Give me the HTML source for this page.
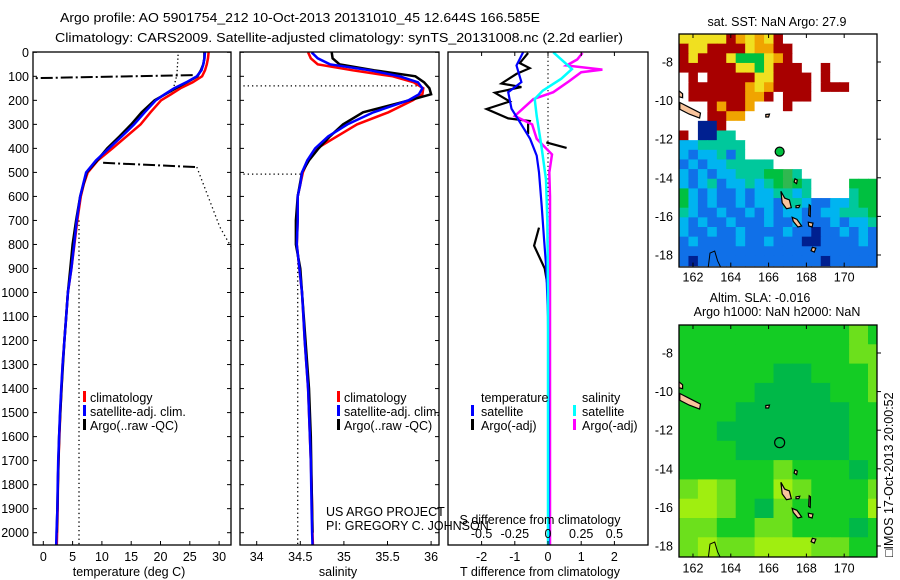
<!DOCTYPE html>
<html><head><meta charset="utf-8"><title>Argo profile</title>
<style>
html,body{margin:0;padding:0;background:#fff;}
svg{display:block;font-family:"Liberation Sans",sans-serif;}
</style></head>
<body>
<svg id="root" width="900" height="580" viewBox="0 0 900 580" xmlns="http://www.w3.org/2000/svg">
<defs>
<clipPath id="c1"><rect x="33" y="52" width="198" height="493"/></clipPath>
<clipPath id="c2"><rect x="240" y="52" width="199" height="493"/></clipPath>
<clipPath id="c3"><rect x="448" y="52" width="200" height="493"/></clipPath>
<clipPath id="cm1"><rect x="679" y="34" width="198" height="233"/></clipPath>
<clipPath id="cm2"><rect x="679" y="325" width="198" height="232"/></clipPath>
</defs>
<text x="60" y="22" font-size="13" textLength="480" lengthAdjust="spacingAndGlyphs">Argo profile: AO 5901754_212 10-Oct-2013 20131010_45 12.644S 166.585E</text>
<text x="55" y="42" font-size="13" textLength="568" lengthAdjust="spacingAndGlyphs">Climatology: CARS2009. Satellite-adjusted climatology: synTS_20131008.nc (2.2d earlier)</text>

<g id="p1"></g>
<g id="p2"></g>
<g id="p3"></g>
<g id="m1"></g>
<g id="m2"></g>

<rect x="33" y="52" width="198" height="493" fill="none" stroke="#000" stroke-width="1.3"/>
<rect x="240" y="52" width="199" height="493" fill="none" stroke="#000" stroke-width="1.3"/>
<rect x="448" y="52" width="200" height="493" fill="none" stroke="#000" stroke-width="1.3"/>
<rect x="679" y="34" width="198" height="233" fill="none" stroke="#000" stroke-width="1.3"/>
<rect x="679" y="325" width="198" height="232" fill="none" stroke="#000" stroke-width="1.3"/>

<g font-size="12.5">
<rect x="83" y="391" width="3" height="11" fill="#f00"/>
<text x="90" y="402">climatology</text>
<rect x="83" y="405" width="3" height="11" fill="#00f"/>
<text x="90" y="416">satellite-adj. clim.</text>
<rect x="83" y="419" width="3" height="11" fill="#000"/>
<text x="90" y="430">Argo(..raw -QC)</text>
</g>
<g font-size="12.5">
<rect x="337" y="391" width="3" height="11" fill="#f00"/>
<text x="344" y="402">climatology</text>
<rect x="337" y="405" width="3" height="11" fill="#00f"/>
<text x="344" y="416">satellite-adj. clim.</text>
<rect x="337" y="419" width="3" height="11" fill="#000"/>
<text x="344" y="430">Argo(..raw -QC)</text>
</g>
<g font-size="12.5">
<text x="481" y="402">temperature</text>
<rect x="471" y="405" width="3" height="11" fill="#00f"/>
<text x="481" y="416">satellite</text>
<rect x="471" y="419" width="3" height="11" fill="#000"/>
<text x="481" y="430">Argo(-adj)</text>
<text x="582" y="402">salinity</text>
<rect x="573" y="405" width="3" height="11" fill="#0ff"/>
<text x="582" y="416">satellite</text>
<rect x="573" y="419" width="3" height="11" fill="#f0f"/>
<text x="582" y="430">Argo(-adj)</text>
</g>

<text x="129" y="576" font-size="12.5" text-anchor="middle">temperature (deg C)</text>
<text x="338" y="576" font-size="12.5" text-anchor="middle">salinity</text>
<text x="540" y="576" font-size="12.5" text-anchor="middle">T difference from climatology</text>
<text x="540" y="524" font-size="12.5" text-anchor="middle">S difference from climatology</text>
<text x="326" y="516" font-size="12.5">US ARGO PROJECT</text>
<text x="326" y="530" font-size="12.5">PI: GREGORY C. JOHNSON</text>

<text x="777" y="26" font-size="12.5" text-anchor="middle">sat. SST: NaN Argo: 27.9</text>
<text x="760" y="302" font-size="12.5" text-anchor="middle">Altim. SLA: -0.016</text>
<text x="777" y="316" font-size="12.5" text-anchor="middle">Argo h1000: NaN h2000: NaN</text>
<text transform="translate(893,557) rotate(-90)" font-size="12.5">□IMOS 17-Oct-2013 20:00:52</text>
</svg>
<script>
// ---------- profile data ----------
const climDepth = [0,25,50,75,100,125,150,175,200,250,300,350,400,450,500,550,600,700,800,900,1000,1100,1200,1300,1400,1500,1600,1700,1800,1900,2000,2050];
const climT = [28.2,28.1,27.9,27.6,27.1,25.5,23.4,21.8,20.1,18.3,16.6,14.2,11.8,9.3,7.6,6.9,6.4,5.8,5.3,4.8,4.2,3.9,3.6,3.3,3.1,2.9,2.75,2.6,2.5,2.45,2.35,2.3];
const satT = [27.6,27.5,27.3,27.0,26.2,24.4,22.3,20.7,19.2,17.3,15.5,13.4,11.2,9.0,7.3,6.8,6.3,5.7,5.25,4.8,4.2,3.9,3.6,3.3,3.05,2.85,2.7,2.55,2.45,2.4,2.25,2.2];
const climS = [34.59,34.62,34.70,35.10,35.56,35.80,35.91,35.90,35.79,35.51,35.15,34.92,34.69,34.59,34.53,34.50,34.47,34.47,34.46,34.49,34.52,34.535,34.55,34.57,34.59,34.60,34.61,34.62,34.63,34.635,34.64,34.645];
const satS = [34.63,34.70,34.84,35.30,35.64,35.85,35.90,35.86,35.74,35.34,35.04,34.82,34.67,34.58,34.52,34.50,34.47,34.47,34.46,34.49,34.52,34.535,34.55,34.57,34.59,34.60,34.61,34.62,34.625,34.63,34.635,34.64];
const argoDepth = [0,25,50,75,100,125,150,175,200,250,300,350,400,450,500,600,700,800,900,1000,1200,1400,1600,1800,2000];
const argoT = [27.5,27.5,27.3,26.9,26.3,24.5,22.6,20.8,19.0,16.8,15.0,13.0,10.9,9.2,7.4,6.3,5.6,5.0,4.6,4.2,3.6,3.1,2.7,2.5,2.3];
const argoS = [34.86,34.87,34.95,35.35,35.82,35.92,35.98,36.0,35.75,35.22,34.99,34.84,34.71,34.60,34.52,34.47,34.45,34.45,34.50,34.52,34.56,34.60,34.62,34.63,34.64];
// raw (failed QC) Argo values
const rawTDepthA = [10,95,170];
const rawTA = [23.0,22.8,22.0];
const rawTDepthB = [95,108];
const rawTB = [25.5,-1.8];
const rawTDepthC = [460,478];
const rawTC = [10.2,26.2];
const rawTDepthD = [478,726,830];
const rawTD = [26.2,30.1,32.5];
const rawTDepthE = [700,2070];
const rawTE = [6.1,6.1];
const rawSDepthA = [140,140];
const rawSA = [33.7,35.87];
const rawSDepthB = [507,507];
const rawSB = [33.7,34.52];
const rawSDepthC = [860,2070];
const rawSC = [34.47,34.47];
// differences
const satDiffDepth = [0,55,124,166,235,290,360,430,500,640,775,900,1100,1500,2050];
const satDiffT = [-0.75,-0.95,-0.8,-1.2,-1.1,-0.85,-0.54,-0.34,-0.27,-0.19,-0.12,-0.05,0.0,0.02,0.02];
const argoDiffDepth = [3,45,66,90,130,145,168,205,236,275,286,300,340,null,375,398,null,730,805,900,1000,1500,2050];
const argoDiffT = [-0.6,-0.85,-0.55,-0.95,-1.4,-0.8,-1.6,-1.15,-1.85,-1.2,-0.55,-0.6,-0.6,null,-0.05,0.56,null,-0.27,-0.42,-0.1,0.02,0.02,0.02];
const satDiffSDepth = [0,45,70,110,160,195,265,390,530,700,1000,2050];
const satDiffS = [0.04,0.13,0.18,0.10,-0.04,-0.10,-0.085,-0.05,-0.015,-0.005,0,0];
const argoDiffSDepth = [3,30,55,72,83,120,166,195,235,265,300,360,425,500,600,1000,2050];
const argoDiffS = [0.26,0.22,0.14,0.41,0.25,0.16,0.04,-0.11,-0.19,-0.25,-0.12,-0.085,0.03,0.01,0.015,0.015,0.015];
// ticks
const depthTicks = [0,100,200,300,400,500,600,700,800,900,1000,1100,1200,1300,1400,1500,1600,1700,1800,1900,2000];
const tempTicks = [0,5,10,15,20,25,30];
const salTicks = [34,34.5,35,35.5,36];
const salTickLabels = ["34","34.5","35","35.5","36"];
const tDiffTicks = [-2,-1,0,1,2];
const sDiffTicks = [-0.5,-0.25,0,0.25,0.5];
const sDiffTickLabels = ["-0.5","-0.25","0","0.25","0.5"];
// maps
const lonTicks = [162,164,166,168,170];
const latTicks = [-8,-10,-12,-14,-16,-18];
const floatLon = 166.585, floatLat = -12.644;
const sstGrid = [
"yyyyyroyoyrwwwwwwwwww",
"ryyrrrryoorrwwwwwwwww",
"ryrrrygggyorwwwwwwwww",
"rrrrrryygyrrrwwrwwwww",
"wrwrrrrryyrrrrwrwwwww",
"wrrrrrroyorrrrwrrrwww",
"wrrrrrroorwrrrwwwwwww",
"wwwrorrowwwrwwwwwwwww",
"wwwrroowwwwwwwwwwwwww",
"wwnnrwwwwwwwwwwwwwwww",
"rwnnttwwwwwwwwwwwwwww",
"cctttttwwwwwwwwwwwwww",
"cbcctbtwwwwwwwwwwwwww",
"bcbcctttttwwwwwwwwwww",
"cbcbcctttggmtwwwwwwww",
"cbctbcctctgmgtwwwwggg",
"gcbcbbcbccttctwwwwtgg",
"gcbcbbcbccbttcbbcctgg",
"tcbbcbbcbcbccbbcctttg",
"cbcbbcbbbcbbcbbbcbcct",
"cbbcbbcbbbbcbbnbbcbcb",
"bcbbbbcbbcbbbnnbbbbcb",
"bbbbbbbbbbbbbbbbbbbbb",
"bnbbbbbbbbbbbbbnbbbbb"];
const slaGrid = [
"ggggggggglg",
"gggggggggll",
"gggggGGgggl",
"ggggGGGGggl",
"gggGGGGGGgg",
"ggGGGGGGGgg",
"gggGGGGGGgg",
"ggggglgggGg",
"lLlggLlgggl",
"LLlgGlggggL",
"llggllgggGg",
"lLllLLLllgg"];
const islands = [
 [[161.3,-10.1],[161.8,-10.35],[162.4,-10.65],[162.35,-10.9],[161.8,-10.7],[161.3,-10.45]],
 [[161.26,-9.5],[161.45,-9.65],[161.45,-9.85],[161.26,-9.8]],
 [[166.65,-14.7],[166.85,-15.05],[167.1,-15.15],[167.2,-15.55],[166.95,-15.6],[166.72,-15.3]],
 [[167.25,-16.05],[167.5,-16.15],[167.75,-16.5],[167.55,-16.55],[167.3,-16.25]],
 [[168.32,-17.6],[168.5,-17.65],[168.42,-17.85],[168.25,-17.78]],
 [[167.4,-14.05],[167.52,-14.12],[167.48,-14.3],[167.35,-14.22]],
 [[168.15,-15.4],[168.22,-15.45],[168.2,-16.0],[168.12,-15.95]],
 [[168.1,-16.3],[168.35,-16.35],[168.3,-16.55],[168.12,-16.5]],
 [[165.85,-10.72],[166.05,-10.7],[166.0,-10.85],[165.85,-10.85]],
 [[167.45,-15.45],[167.65,-15.42],[167.6,-15.55],[167.45,-15.55]]
];
const nCaledonia = [[162.8,-18.7],[162.9,-17.9],[163.15,-17.8],[163.3,-18.3],[163.5,-18.7]];

const NS = "http://www.w3.org/2000/svg";
function el(tag, attrs, parent){ const e=document.createElementNS(NS,tag); for(const k in attrs) e.setAttribute(k,attrs[k]); parent.appendChild(e); return e; }

// scales
const yD = d => 52.3 + d*0.2402;
const xT = t => 43.3 + t*5.86;
const xS = s => 256.7 + (s-34)*87.2;
const xDT = v => 548 + v*33.2;
const xDS = v => 548 + v*132.8;
const mx1 = lon => 679 + (lon-161.26)*18.9;
const my1 = lat => 34 + (-6.55-lat)*19.3;
const my2 = lat => 325 + (-6.55-lat)*19.3;

function pathFrom(xs, ds, xf){
  let s="", pen=false;
  for(let i=0;i<xs.length;i++){
    if(xs[i]===null||ds[i]===null){pen=false;continue;}
    s += (pen?"L":"M") + xf(xs[i]).toFixed(1)+","+yD(ds[i]).toFixed(1);
    pen=true;
  }
  return s;
}
function series(parent, clip, xs, ds, xf, color, w, dash, name){
  const p = el("path",{d:pathFrom(xs,ds,xf),fill:"none",stroke:color,"stroke-width":w,"clip-path":"url(#"+clip+")"},parent);
  if(dash) p.setAttribute("stroke-dasharray",dash);
  
  
  return p;
}

const p1=document.getElementById("p1"), p2=document.getElementById("p2"), p3=document.getElementById("p3");

series(p1,"c1",rawTA,rawTDepthA,xT,"#000",1.3,"1.3,2.5","raw-temperature-dotted-top");
series(p1,"c1",rawTB,rawTDepthB,xT,"#000",2,"12,3,2,3","raw-temperature-spike-100m");
series(p1,"c1",rawTC,rawTDepthC,xT,"#000",2,"12,3,2,3","raw-temperature-spike-470m");
series(p1,"c1",rawTD,rawTDepthD,xT,"#000",1.3,"1.3,3","raw-temperature-dotted-mid");
series(p1,"c1",rawTE,rawTDepthE,xT,"#000",1.3,"1.3,3","raw-temperature-dotted-deep");
series(p1,"c1",climT,climDepth,xT,"#f00",2.5,null,"temperature-climatology-line");
series(p1,"c1",argoT,argoDepth,xT,"#000",2.5,null,"temperature-argo-line");
series(p1,"c1",satT,climDepth,xT,"#00f",2.5,null,"temperature-satellite-line");
series(p2,"c2",rawSA,rawSDepthA,xS,"#000",1.3,"1.3,3","raw-salinity-dotted-140m");
series(p2,"c2",rawSB,rawSDepthB,xS,"#000",1.3,"1.3,3","raw-salinity-dotted-507m");
series(p2,"c2",rawSC,rawSDepthC,xS,"#000",1.3,"1.3,3","raw-salinity-dotted-deep");
series(p2,"c2",climS,climDepth,xS,"#f00",2.5,null,"salinity-climatology-line");
series(p2,"c2",argoS,argoDepth,xS,"#000",2.5,null,"salinity-argo-line");
series(p2,"c2",satS,climDepth,xS,"#00f",2.5,null,"salinity-satellite-line");
series(p3,"c3",[0,0],[0,1950],xDT,"#000",1.2,"1.2,3","zero-difference-line");
series(p3,"c3",argoDiffT,argoDiffDepth,xDT,"#000",2.2,null,"t-difference-argo-line");
series(p3,"c3",argoDiffS,argoDiffSDepth,xDS,"#f0f",2.5,null,"s-difference-argo-line");
series(p3,"c3",satDiffT,satDiffDepth,xDT,"#00f",2.2,null,"t-difference-satellite-line");
series(p3,"c3",satDiffS,satDiffSDepth,xDS,"#0ff",2.5,null,"s-difference-satellite-line");

const root=document.getElementById("root");
const axG = el("g",{},root);


depthTicks.forEach(d=>{
  const y=yD(d);
  [[33,37],[227,231],[240,244],[435,439]].forEach(([a,b])=>{
    const t=el("line",{x1:a,x2:b,y1:y,y2:y,stroke:"#000","stroke-width":1},axG);
    
  });
  const lb=el("text",{x:29,y:y+4.5,"font-size":12.5,"text-anchor":"end"},axG);
  lb.textContent=String(d);
  
});
tempTicks.forEach(v=>{
  const x=xT(v);
  const t=el("line",{x1:x,x2:x,y1:541,y2:545,stroke:"#000"},axG);
  
  const lb=el("text",{x:x,y:561,"font-size":12.5,"text-anchor":"middle"},axG);
  lb.textContent=String(v);
  
});
salTicks.forEach((v,i)=>{
  const x=xS(v);
  const t=el("line",{x1:x,x2:x,y1:541,y2:545,stroke:"#000"},axG);
  
  const lb=el("text",{x:x,y:561,"font-size":12.5,"text-anchor":"middle"},axG);
  lb.textContent=salTickLabels[i];
  
});
tDiffTicks.forEach(v=>{
  const x=xDT(v);
  const t=el("line",{x1:x,x2:x,y1:541,y2:545,stroke:"#000"},axG);
  
  const t2=el("line",{x1:x,x2:x,y1:52,y2:56,stroke:"#000"},axG);
  
  const lb=el("text",{x:x,y:561,"font-size":12.5,"text-anchor":"middle"},axG);
  lb.textContent=(v<0?"-":"")+Math.abs(v);
  
});
sDiffTicks.forEach((v,i)=>{
  const lb=el("text",{x:xDS(v),y:538,"font-size":12.5,"text-anchor":"middle"},axG);
  lb.textContent=sDiffTickLabels[i];
  
});

const sstColors={y:"#f0e020",o:"#f0a400",r:"#a80000",g:"#00c040",m:"#30b850",t:"#00c89c",c:"#00b4f0",b:"#1070e8",n:"#002090",w:"#ffffff"};
const slaColors={G:"#00b848",g:"#14cc24",l:"#6ce01c",L:"#a0ee10"};
function drawMap(gid, grid, colors, step, my, clip, name){
  const g=document.getElementById(gid);
  const cg=el("g",{"clip-path":"url(#"+clip+")"},g);
  
  grid.forEach((row,r)=>{
    for(let c=0;c<row.length;c++){
      const lon0=161.26+c*step, lat0=-6.55-r*step;
      const x=mx1(lon0), y=my(lat0);
      const cell=el("rect",{x:x.toFixed(2),y:y.toFixed(2),width:(step*18.9+0.6).toFixed(2),height:(step*19.3+0.6).toFixed(2),fill:colors[row[c]]},cg);
      
    }
  });
  islands.forEach(poly=>{
    const pts=poly.map(p=>mx1(p[0]).toFixed(1)+","+my(p[1]).toFixed(1)).join(" ");
    const isl=el("polygon",{points:pts,fill:"#f8c49c",stroke:"#000","stroke-width":1.2},cg);
    
  });
  const nc=el("polyline",{points:nCaledonia.map(p=>mx1(p[0]).toFixed(1)+","+my(p[1]).toFixed(1)).join(" "),fill:"none",stroke:"#000","stroke-width":1},cg);
  
  lonTicks.forEach(v=>{
    const x=mx1(v);
    const lb=el("text",{x:x,y:my(-18.6)+15,"font-size":12.5,"text-anchor":"middle"},g);
    lb.textContent=String(v);
    
    const t=el("line",{x1:x,x2:x,y1:my(-6.55),y2:my(-6.55)+4,stroke:"#000"},g);
    
    const tb=el("line",{x1:x,x2:x,y1:my(-18.6)-4,y2:my(-18.6),stroke:"#000"},g);
    
  });
  latTicks.forEach(v=>{
    const y=my(v);
    const lb=el("text",{x:673,y:y+4.5,"font-size":12.5,"text-anchor":"end"},g);
    lb.textContent=String(v);
    
    const t=el("line",{x1:877,x2:881,y1:y,y2:y,stroke:"#000"},g);
    
  });
}
drawMap("m1",sstGrid,sstColors,0.5,my1,"cm1","sst-map");
drawMap("m2",slaGrid,slaColors,1,my2,"cm2","sla-map");
const fm1=el("circle",{cx:mx1(floatLon),cy:my1(floatLat),r:4.5,fill:"#00c040",stroke:"#000","stroke-width":1.2},document.getElementById("m1"));


const fm2=el("circle",{cx:mx1(floatLon),cy:my2(floatLat),r:5,fill:"none",stroke:"#000","stroke-width":1.2},document.getElementById("m2"));


</script>
</body></html>
